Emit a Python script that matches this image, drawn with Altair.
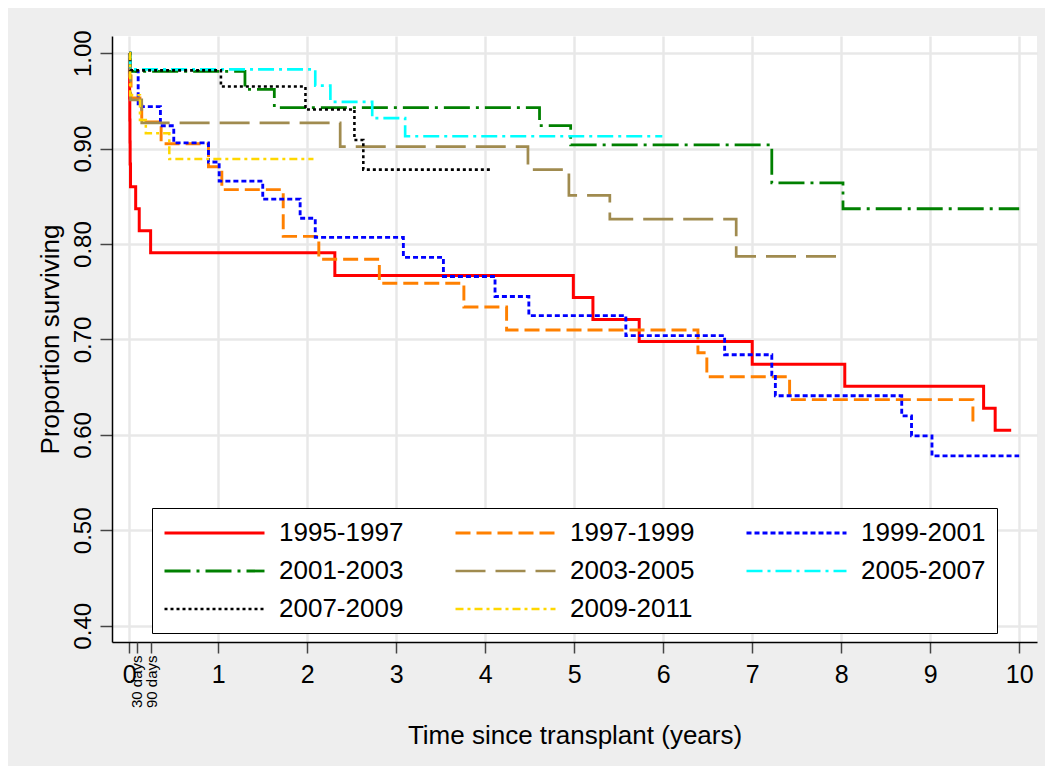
import altair as alt
import pandas as pd

# ---------------- data ----------------
groups = ["1995-1997", "1997-1999", "1999-2001", "2001-2003",
          "2003-2005", "2005-2007", "2007-2009", "2009-2011"]

t_1995 = [0, 0.002, 0.004, 0.006, 0.008, 0.010, 0.014, 0.072, 0.112, 0.24, 2.31, 4.99, 5.21, 5.73, 7.00, 8.04, 9.60, 9.73, 9.91]
s_1995 = [1.0, 0.977, 0.953, 0.930, 0.907, 0.884, 0.860, 0.837, 0.814, 0.791, 0.767, 0.744, 0.721, 0.698, 0.674, 0.651, 0.628, 0.605, 0.605]

t_1997 = [0, 0.005, 0.02, 0.14, 0.358, 0.89, 1.04, 1.73, 2.13, 2.81, 3.76, 4.24, 6.39, 6.49, 7.42, 9.48]
s_1997 = [1.0, 0.976, 0.953, 0.928, 0.905, 0.881, 0.857, 0.808, 0.784, 0.759, 0.734, 0.710, 0.686, 0.661, 0.637, 0.613]

t_1999 = [0, 0.01, 0.10, 0.35, 0.50, 0.89, 1.01, 1.50, 1.92, 2.09, 3.08, 3.53, 4.11, 4.49, 5.58, 6.69, 7.22, 7.26, 8.68, 8.79, 9.02, 10.0]
s_1999 = [1.0, 0.981, 0.944, 0.924, 0.906, 0.886, 0.866, 0.847, 0.827, 0.807, 0.786, 0.766, 0.745, 0.725, 0.704, 0.684, 0.663, 0.641, 0.620, 0.599, 0.578, 0.578]

t_2001 = [0, 0.01, 1.30, 1.63, 4.61, 4.96, 7.22, 8.02, 10.0]
s_2001 = [1.0, 0.981, 0.962, 0.943, 0.924, 0.904, 0.864, 0.837, 0.837]

t_2003 = [0, 0.005, 0.015, 0.14, 2.37, 4.48, 4.94, 5.40, 6.82, 7.98]
s_2003 = [1.0, 0.976, 0.951, 0.927, 0.902, 0.878, 0.851, 0.826, 0.787, 0.787]

t_2005 = [0, 0.01, 2.09, 2.26, 2.73, 3.10, 5.99]
s_2005 = [1.0, 0.983, 0.966, 0.949, 0.932, 0.913, 0.913]

t_2007 = [0, 0.01, 1.03, 1.98, 2.53, 2.63, 4.08]
s_2007 = [1.0, 0.982, 0.965, 0.941, 0.909, 0.878, 0.878]

t_2009 = [0, 0.01, 0.12, 0.186, 0.45, 2.07]
s_2009 = [1.0, 0.956, 0.930, 0.916, 0.889, 0.889]

year_ticks = [0, 1, 2, 3, 4, 5, 6, 7, 8, 9, 10]
day_ticks = [30 / 365.25, 90 / 365.25]
day_labels = ["30 days", "90 days"]
y_ticks = [0.4, 0.5, 0.6, 0.7, 0.8, 0.9, 1.0]

colors = ["#ff0000", "#ff8000", "#0000ff", "#008000",
          "#a08b4f", "#00ffff", "#000000", "#ffd700"]
dashes = [[1, 0], [15, 6], [5, 3], [26, 6, 3, 6],
          [30, 10], [16, 5, 3, 5], [3, 3], [8, 4, 3, 4]]
widths = [3.0, 2.5, 2.5, 2.5, 2.5, 2.5, 2.5, 2.5]

series = [(t_1995, s_1995), (t_1997, s_1997), (t_1999, s_1999), (t_2001, s_2001),
          (t_2003, s_2003), (t_2005, s_2005), (t_2007, s_2007), (t_2009, s_2009)]

rows = []
for g, (ts, ss) in zip(groups, series):
    for i, (t, s) in enumerate(zip(ts, ss)):
        rows.append({"t": t, "s": s, "group": g, "i": i})
df = pd.DataFrame(rows)

FONT = "Liberation Sans"
x_dom = [-0.194, 10.2]
y_dom = [0.383, 1.018]

lines = alt.Chart(df).mark_line(interpolate="step-after").encode(
    x=alt.X("t:Q", scale=alt.Scale(domain=x_dom, nice=False, zero=False),
            axis=alt.Axis(values=year_ticks, format="d", title="Time since transplant (years)",
                          orient="bottom", labelOverlap=False, labelFlush=False,
                          labelFontSize=25, labelPadding=9, tickSize=11,
                          titleFontSize=26, titlePadding=35, titleFontWeight="normal")),
    y=alt.Y("s:Q", scale=alt.Scale(domain=y_dom, nice=False, zero=False),
            axis=alt.Axis(values=y_ticks, format=".2f", title="Proportion surviving",
                          labelAngle=270, labelAlign="center", labelBaseline="alphabetic",
                          labelOverlap=False,
                          labelFontSize=24, labelPadding=10, tickSize=12,
                          titleFontSize=26, titlePadding=8, titleFontWeight="normal")),
    color=alt.Color("group:N", scale=alt.Scale(domain=groups, range=colors),
                    legend=alt.Legend(title=None, orient="none", legendX=40, legendY=472,
                                      direction="horizontal", columns=3,
                                      symbolType="M-1,0H7", symbolSize=625,
                                      symbolStrokeWidth=2.5, labelFontSize=26, labelFont=FONT,
                                      labelOffset=88, columnPadding=45, rowPadding=11,
                                      padding=11, strokeColor="#000000", fillColor="#ffffff",
                                      labelLimit=0, labelColor="#000000")),
    strokeDash=alt.StrokeDash("group:N", scale=alt.Scale(domain=groups, range=dashes)),
    strokeWidth=alt.StrokeWidth("group:N", scale=alt.Scale(domain=groups, range=widths)),
    order=alt.Order("i:Q"),
)

days = alt.Chart(pd.DataFrame({"t": day_ticks, "lab": day_labels})).mark_rule(opacity=0).encode(
    x=alt.X("t:Q", scale=alt.Scale(domain=x_dom, nice=False, zero=False),
            axis=alt.Axis(values=day_ticks, title=None, orient="bottom",
                          labelExpr="datum.value < 0.15 ? '30 days' : '90 days'",
                          labelAngle=270, labelAlign="right", labelBaseline="middle",
                          labelOverlap=False, labelFlush=False,
                          labelFontSize=15, labelPadding=2, tickSize=11, domain=False)),
)

chart = alt.layer(lines, days).resolve_axis(x="independent").properties(
    width=925, height=606,
    autosize=alt.AutoSizeParams(type="none"),
    padding={"left": 104, "top": 28, "right": 8, "bottom": 124},
    background="#eeeeee",
).configure_view(
    fill="#ffffff", stroke=None,
).configure_axis(
    grid=True, gridColor="#e8e8e8", gridWidth=2.5,
    domainColor="#000000", domainWidth=1.5,
    tickColor="#444444", tickWidth=1.5,
    labelColor="#000000", titleColor="#000000",
    labelFont=FONT, titleFont=FONT,
)

chart.save("out.html", embed_options={"renderer": "svg", "actions": False})
